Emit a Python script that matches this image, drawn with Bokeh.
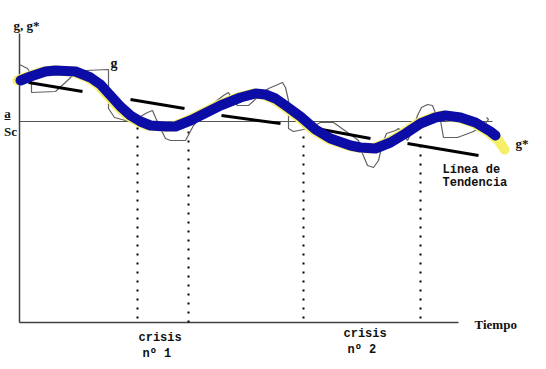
from bokeh.plotting import figure
from bokeh.models import Range1d
from bokeh.embed import file_html
from bokeh.resources import INLINE
from bokeh.core.properties import value

# g* (smoothed path) : time, value
gstar_t = [1, 11, 26, 36, 56, 71, 81, 91, 101, 111, 121, 131, 146, 156, 171, 181, 201, 221,
           236, 246, 256, 266, 281, 296, 311, 331, 341, 356, 371, 386, 401, 416, 426, 441,
           456, 471, 476]
gstar_v = [242, 246, 251, 252, 251, 245, 238, 227, 216, 207, 201, 197, 196, 196, 202, 207,
           217, 225, 229, 228, 224, 217, 206, 193, 184, 177, 175, 174, 180, 189, 199, 205,
           207, 205, 200, 191, 187]
# yellow continuation of g*
gstar_ext_t = [479, 485]
gstar_ext_v = [182, 173]

# g (observed, jagged)
g_t = [0, 8, 12, 12, 36, 48, 55, 66, 89, 89, 95, 106, 121, 128, 133, 136, 141, 146, 151, 166,
       174, 181, 191, 204, 209, 212, 218, 229, 239, 249, 256, 263, 266, 269, 269, 274, 284,
       291, 301, 314, 328, 339, 343, 348, 354, 359, 363, 367, 376, 379, 384, 388, 393, 398,
       402, 408, 413, 415, 417, 421, 424, 438, 454, 466, 469, 467]
g_v = [258, 254, 248, 230, 231, 242, 249, 252, 253, 214, 205, 202, 206, 210, 212, 205, 194,
       184, 182, 182, 197, 205, 217, 227, 230, 224, 217, 217, 226, 234, 237, 240, 235, 222,
       194, 191, 193, 195, 200, 200, 190, 182, 169, 157, 155, 162, 179, 189, 192, 194, 189,
       182, 192, 207, 215, 218, 217, 212, 205, 202, 185, 185, 191, 199, 203, 205]

# trend line segments
trend_t0 = [9, 111, 202, 286, 388]
trend_v0 = [240, 223, 207, 196, 179]
trend_t1 = [63, 165, 261, 351, 459]
trend_v1 = [231, 214, 199, 184, 167]

# a/Sc level
level_v = 201
level_t_end = 473

# crisis markers (dotted verticals)
crisis_t = [118, 169, 284, 401]
crisis_top = [195, 197, 190, 189]
crisis_bottom = [4, 0, 4, 4]

# axis extents
x_axis_end = 439
y_axis_top = 289

p = figure(width=546, height=369, output_backend="svg", toolbar_location=None,
           x_range=Range1d(-19, 527), y_range=Range1d(-47, 322), min_border=0)
p.axis.visible = False
p.grid.visible = False
p.outline_line_color = None
p.background_fill_color = "white"
p.border_fill_color = "white"

# axes
p.segment(x0=[0, 0], y0=[0, 0], x1=[0, x_axis_end], y1=[y_axis_top, 0],
          line_color="#404040", line_width=1.5)
# level line
p.segment(x0=[0], y0=[level_v], x1=[level_t_end], y1=[level_v],
          line_color="#555555", line_width=1)
# dotted crisis lines
p.segment(x0=crisis_t, y0=crisis_bottom, x1=crisis_t, y1=crisis_top,
          line_color="black", line_width=2, line_dash="2 7")
# g
p.line(g_t, g_v, line_color="#606060", line_width=1.2)
# trend lines
p.segment(x0=trend_t0, y0=trend_v0, x1=trend_t1, y1=trend_v1,
          line_color="black", line_width=3)
# g* : yellow under blue
yt = [t - 3 for t in gstar_t] + gstar_ext_t
yv = gstar_v + gstar_ext_v
p.line(yt, yv, line_color="#f5ef6a", line_width=10, line_cap="round", line_join="round")
p.line(gstar_t, gstar_v, line_color="#0c0ca6", line_width=10, line_cap="round",
       line_join="round")

serif = value("Liberation Serif")
mono = value("Liberation Mono")


def txt(x, y, s, font, size="12px", align="left"):
    p.text(x=[x], y=[y], text=[s], text_font=font, text_font_size=size,
           text_font_style="bold", text_align=align, text_baseline="middle",
           text_color="#111111")


txt(-6, 297, "g, g*", serif, "13px")
txt(91, 259, "g", serif, "14px")
txt(-12, 209, "a", serif, "13px", "center")
p.segment(x0=[-15], y0=[203], x1=[-9], y1=[203], line_color="#111111", line_width=1)
txt(-9, 191, "Sc", serif, "13px", "center")
txt(496, 179, "g*", serif, "13px")
txt(423, 153, "Línea de", mono, "12px")
txt(423, 140, "Tendencia", mono, "12px")
txt(455, -2, "Tiempo", serif, "13px")
txt(119, -15, "crisis", mono, "12px")
txt(123, -31, "nº 1", mono, "12px")
txt(324, -11, "crisis", mono, "12px")
txt(328, -27, "nº 2", mono, "12px")

open("out.html", "w").write(file_html(p, INLINE))
